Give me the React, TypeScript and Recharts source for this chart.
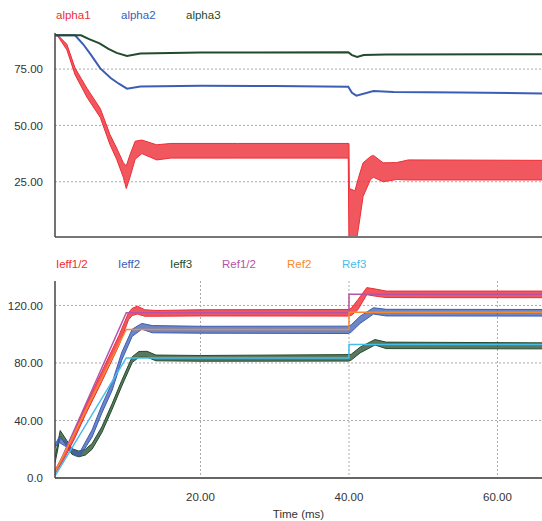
import { ComposedChart, Area, Line, XAxis, YAxis, CartesianGrid } from 'recharts';

// top panel: alpha angles (deg)
const alpha1Time = [0.4, 0.8, 2.0, 3.1, 4.7, 6.5, 7.8, 8.7, 9.6, 10.0, 10.5, 11.2, 12.1, 14.1, 16, 25, 39.9, 40.0, 40.05, 40.8, 41.3, 41.9, 42.9, 43.3, 44.6, 46.4, 48, 66];
const alpha1Low = [90, 89.5, 83.5, 72.5, 62.5, 53.5, 41.5, 35, 27, 22, 27, 35, 37.5, 34.7, 35.5, 35.5, 35.5, -5, -5, -5, 5, 18.5, 26, 27, 25, 26, 25.8, 25.8];
const alpha1High = [90, 90, 86, 75.5, 66.5, 57.5, 46, 40, 33.5, 32, 37, 43, 43.5, 41.4, 42, 42, 42, 42, 22, 21, 27, 33.4, 36.2, 36.7, 33.4, 33.5, 34.7, 34.5];

const alpha2Time = [0.4, 3.1, 4.2, 5.2, 6.5, 7.9, 9.0, 10.1, 11.9, 20, 30, 39.9, 40.4, 41.0, 43.3, 46, 55, 66];
const alpha2 = [90, 90, 86, 81.5, 75.3, 71, 68.5, 66.3, 67.3, 67.6, 67.5, 67.2, 64.5, 63.2, 65.3, 64.8, 64.6, 64.2];

const alpha3Time = [0.4, 3.9, 5.0, 6.4, 7.6, 8.7, 10.1, 11.9, 20, 39.9, 40.4, 41.1, 42, 45, 66];
const alpha3 = [90, 90, 88.3, 86.4, 84, 82.2, 80.8, 81.9, 82.3, 82.5, 81.2, 80.4, 81.2, 81.5, 81.6];

// bottom panel: currents and references
const ieff12Time = [0.4, 1.5, 3, 4.5, 6.7, 9.0, 10.3, 10.8, 11.5, 12.5, 14, 20, 39.9, 40.3, 41.2, 42.4, 43.5, 45, 50, 66];
const ieff12Low = [3, 12, 27, 44, 67, 92, 110, 113, 114, 112.5, 112.5, 112.7, 112.6, 113, 117, 127.5, 126.5, 125.5, 125.4, 125.4];
const ieff12High = [5.5, 16, 32, 50, 74, 99, 115, 118, 119.5, 117, 116.5, 117, 117.2, 118, 124, 132.4, 131.5, 130, 130, 130];

const ieff2Time = [0.4, 0.9, 1.8, 3.1, 3.8, 5.4, 6.7, 8.1, 9.4, 10.8, 12.1, 13.5, 20, 39.9, 40.3, 41.5, 43.3, 45, 66];
const ieff2Low = [21, 25, 22, 15.5, 15.5, 28.5, 45, 61, 82, 98.5, 103.5, 101, 100.7, 100.5, 101.5, 107.5, 114, 112.7, 112.6];
const ieff2High = [23, 28, 25.5, 18.5, 18.5, 33.5, 50.5, 66.5, 87.5, 103.5, 107.5, 106, 105.5, 105.6, 106.5, 112.5, 118.4, 117.3, 117.2];

const ieff3Time = [0.4, 0.7, 1.1, 2.0, 2.7, 3.6, 4.5, 5.4, 6.7, 8.1, 9.4, 10.8, 11.7, 12.8, 14, 20, 39.9, 40.3, 41.5, 43.5, 45, 66];
const ieff3Low = [10.5, 18, 29, 22, 16.4, 14.7, 16, 20, 31.5, 47.8, 64, 80.3, 84, 84, 81.5, 81.2, 81.3, 82, 87, 92.5, 90, 89.8];
const ieff3High = [14.5, 22, 33, 26, 20.4, 18.7, 20, 24, 35.5, 51.8, 68, 84.3, 88, 88.1, 85.5, 85.2, 85.8, 86, 91, 96.3, 94.5, 94];

const refTime = [0.4, 10.0, 40, 40, 66];
const ref12 = [3.3, 115, 115, 127.7, 127.7];
const ref2 = [4, 103.3, 103.3, 115.3, 115.3];
const ref3 = [1.5, 83.5, 83.5, 92.8, 92.8];

const timeTicks = [20, 40, 60];
const alphaTicks = [25, 50, 75];
const currentTicks = [0, 40, 80, 120];

const band = (t: number[], lo: number[], hi: number[]) => t.map((x, i) => ({ t: x, v: [lo[i], hi[i]] }));
const line = (t: number[], v: number[]) => t.map((x, i) => ({ t: x, v: v[i] }));

const RED = '#ee2d36';
const BLUE = '#3b5db3';
const GREEN = '#234b2b';
const MAGENTA = '#b553ab';
const ORANGE = '#f7892c';
const LIGHTBLUE = '#46bdea';

const FONT = '"Liberation Sans", Arial, sans-serif';
const tickStyle = { fontSize: 11.5, fill: '#333', fontFamily: FONT };

const legendItem = (label: string, color: string, left: number, top: number) => (
  <div key={label} style={{ position: 'absolute', left, top, color, fontSize: 11.5, lineHeight: '14px', fontFamily: FONT }}>
    {label}
  </div>
);

function AlphaChart() {
  return (
    <ComposedChart width={542} height={240} margin={{ top: 33, right: 0, left: 0, bottom: 0 }}>
      <CartesianGrid stroke="#aaa" strokeDasharray="2 2" horizontalValues={alphaTicks} verticalValues={timeTicks} />
      <XAxis dataKey="t" type="number" domain={[0.4, 66]} ticks={timeTicks} allowDataOverflow tick={false} tickLine={false} height={3} axisLine={{ stroke: '#777', strokeWidth: 2 }} />
      <XAxis xAxisId="top" orientation="top" dataKey="t" type="number" domain={[0.4, 66]} allowDataOverflow tick={false} tickLine={false} height={0} axisLine={{ stroke: '#777', strokeWidth: 2 }} />
      <YAxis type="number" domain={[0.5, 91]} ticks={alphaTicks} allowDataOverflow width={55} tickLine={false} tickSize={6} tickMargin={6} axisLine={{ stroke: '#444', strokeWidth: 1.5 }} tick={tickStyle} tickFormatter={(v: number) => v.toFixed(2)} />
      <Area data={band(alpha1Time, alpha1Low, alpha1High)} dataKey="v" type="linear" stroke={RED} strokeWidth={1} fill={RED} fillOpacity={0.8} isAnimationActive={false} />
      <Line data={line(alpha2Time, alpha2)} dataKey="v" type="linear" stroke={BLUE} strokeWidth={2} dot={false} isAnimationActive={false} />
      <Line data={line(alpha3Time, alpha3)} dataKey="v" type="linear" stroke={GREEN} strokeWidth={2} dot={false} isAnimationActive={false} />
    </ComposedChart>
  );
}

function CurrentChart() {
  return (
    <ComposedChart width={542} height={271} margin={{ top: 31, right: 0, left: 0, bottom: 0 }}>
      <CartesianGrid stroke="#aaa" strokeDasharray="2 2" horizontalValues={[40, 80, 120]} verticalValues={timeTicks} />
      <XAxis dataKey="t" type="number" domain={[0.4, 66]} ticks={timeTicks} allowDataOverflow height={43} tickLine={false} tickSize={6} tickMargin={9} axisLine={{ stroke: '#666', strokeWidth: 2 }} tick={tickStyle} tickFormatter={(v: number) => v.toFixed(2)} label={{ value: 'Time (ms)', position: 'insideBottom', offset: 3, fontSize: 11.5, fill: '#333', fontFamily: FONT }} />
      <XAxis xAxisId="top" orientation="top" dataKey="t" type="number" domain={[0.4, 66]} allowDataOverflow tick={false} tickLine={false} height={0} axisLine={{ stroke: '#777', strokeWidth: 2 }} />
      <YAxis type="number" domain={[0, 137]} ticks={currentTicks} allowDataOverflow width={55} tickLine={false} tickSize={6} tickMargin={6} axisLine={{ stroke: '#444', strokeWidth: 1.5 }} tick={tickStyle} tickFormatter={(v: number) => (v === 0 ? '0.0' : v.toFixed(2))} />
      <Area data={band(ieff3Time, ieff3Low, ieff3High)} dataKey="v" type="linear" stroke={GREEN} strokeWidth={1} fill={GREEN} fillOpacity={0.75} isAnimationActive={false} />
      <Area data={band(ieff2Time, ieff2Low, ieff2High)} dataKey="v" type="linear" stroke={BLUE} strokeWidth={1} fill={BLUE} fillOpacity={0.75} isAnimationActive={false} />
      <Area data={band(ieff12Time, ieff12Low, ieff12High)} dataKey="v" type="linear" stroke={RED} strokeWidth={1} fill={RED} fillOpacity={0.8} isAnimationActive={false} />
      <Line data={line(refTime, ref12)} dataKey="v" type="linear" stroke={MAGENTA} strokeWidth={1.5} dot={false} isAnimationActive={false} />
      <Line data={line(refTime, ref2)} dataKey="v" type="linear" stroke={ORANGE} strokeWidth={1.5} dot={false} isAnimationActive={false} />
      <Line data={line(refTime, ref3)} dataKey="v" type="linear" stroke={LIGHTBLUE} strokeWidth={1.5} dot={false} isAnimationActive={false} />
    </ComposedChart>
  );
}

export default function App() {
  return (
    <div style={{ position: 'relative', width: 542, height: 521, background: '#fff', overflow: 'hidden' }}>
      <style>{'body{margin:0}'}</style>
      <div style={{ position: 'absolute', left: 0, top: 0 }}>
        <AlphaChart />
      </div>
      <div style={{ position: 'absolute', left: 0, top: 250 }}>
        <CurrentChart />
      </div>
      {legendItem('alpha1', RED, 56, 8)}
      {legendItem('alpha2', BLUE, 121, 8)}
      {legendItem('alpha3', GREEN, 186, 8)}
      {legendItem('Ieff1/2', RED, 56, 257)}
      {legendItem('Ieff2', BLUE, 118, 257)}
      {legendItem('Ieff3', GREEN, 170, 257)}
      {legendItem('Ref1/2', MAGENTA, 222, 257)}
      {legendItem('Ref2', ORANGE, 287, 257)}
      {legendItem('Ref3', LIGHTBLUE, 342, 257)}
    </div>
  );
}
